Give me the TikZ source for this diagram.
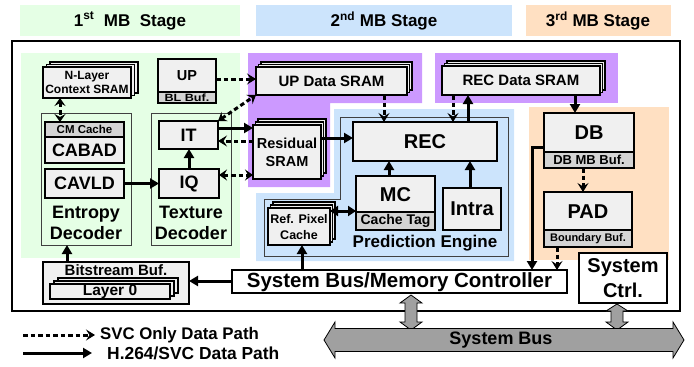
\documentclass[tikz,border=0pt]{standalone}
\usepackage{fontspec}
\setmainfont{Liberation Sans}
\usetikzlibrary{arrows.meta}

\definecolor{stageGreen}{RGB}{229,255,229}
\definecolor{stageBlue}{RGB}{204,228,252}
\definecolor{stageOrange}{RGB}{255,224,194}
\definecolor{sramPurple}{RGB}{204,153,255}
\definecolor{boxFill}{RGB}{240,240,240}
\definecolor{stripFill}{RGB}{212,212,212}
\definecolor{grpLine}{RGB}{64,64,64}
\definecolor{busFill}{RGB}{160,160,160}

\newcommand\bsz[2]{\fontsize{#1}{#2}\selectfont\bfseries}

\begin{document}
\begin{tikzpicture}[x=1pt,y=-1pt,
  rect/.style 2 args={minimum width=#1, minimum height=#2, anchor=north west,
    inner sep=0pt, outer sep=0pt},
  blk/.style={draw=black, line width=1.6pt, fill=boxFill},
  strip/.style={draw=black, line width=1.6pt, fill=stripFill},
  grp/.style={draw=grpLine, line width=1pt},
  txt/.style={inner sep=0pt, align=center},
  sarr/.style={line width=3pt, -{Triangle[length=9pt,width=10pt]}},
  sdarr/.style={line width=3pt, {Triangle[length=8pt,width=10pt]}-{Triangle[length=8pt,width=10pt]}},
  darr/.style={line width=3pt, dash pattern=on 4.5pt off 3pt,
    -{Stealth[length=9pt,width=11pt,inset=3.5pt]}},
  ddarr/.style={line width=3pt, dash pattern=on 4.5pt off 3pt,
    {Stealth[length=8pt,width=11pt,inset=3pt]}-{Stealth[length=8pt,width=11pt,inset=3pt]}},
  bus/.style={draw=black, line width=0.8pt, fill=busFill}
]
\useasboundingbox (0,0) rectangle (694,367);

% ---- stage headers ----
\fill[stageGreen]  (20,5)  rectangle (240,36);
\fill[stageBlue]   (256,5) rectangle (512,36);
\fill[stageOrange] (526,5) rectangle (671,36);
\node[txt, font=\bsz{17}{20}] (hdrA) at (130,21) {1\textsuperscript{st}\ \ MB\ \ Stage};
\node[txt, font=\bsz{17}{20}] (hdrB) at (384,21) {2\textsuperscript{nd} MB Stage};
\node[txt, font=\bsz{17}{20}] (hdrC) at (598,21) {3\textsuperscript{rd} MB Stage};

% ---- stage areas inside the chip ----
\fill[stageGreen] (21,53) rectangle (240,258);
\fill[sramPurple] (248,53) -- (422,53) -- (422,103) -- (330,103) -- (330,187) -- (248,187) -- cycle;
\fill[sramPurple] (435,53) rectangle (618,103);
\fill[stageBlue] (334,109) -- (514,109) -- (514,261) -- (256,261) -- (256,193) -- (334,193) -- cycle;
\fill[stageOrange] (529,107) rectangle (669,260);

% chip outline
\node[draw, line width=1.5pt, rect={668pt}{270pt}] (chip) at (12,41) {};

% group outlines
\node[grp, rect={90pt}{132pt}] (entropy) at (41,113) {};
\node[grp, rect={80pt}{132pt}] (texture) at (151,113) {};
\draw[grp] (340,117) -- (508,117) -- (508,256) -- (264,256) -- (264,199) -- (340,199) -- cycle;
\coordinate (predeng) at (425,243);

% ---- 1st stage blocks ----
\draw[blk] (50,62) rectangle (138,93);
\draw[blk] (46.5,64.5) rectangle (134.5,95.5);
\node[blk, rect={88pt}{31pt}] (nlsram) at (43,67) {};
\node[txt, font=\bsz{12}{14}] (nlsramT) at (87,82.5) {N-Layer\\Context SRAM};

\node[blk, rect={58pt}{44pt}] (up) at (158,59) {};
\node[strip, rect={58pt}{11pt}] (upS) at (158,92) {};
\node[txt, font=\bsz{14.5}{16}] (upT) at (187,75.5) {UP};
\node[txt, font=\bsz{10.5}{12}] (upST) at (187,97.8) {\scalebox{1.2}[1]{BL Buf.}};

\node[blk, rect={79pt}{41pt}] (cabad) at (45,122) {};
\node[strip, rect={79pt}{15pt}] (cmc) at (45,122) {};
\node[txt, font=\bsz{11.5}{13}] (cmcT) at (84.5,129.7) {CM Cache};
\node[txt, font=\bsz{18}{20}] (cabadT) at (84.5,150.5) {CABAD};

\node[blk, rect={79pt}{29pt}] (cavld) at (45,169) {};
\node[txt, font=\bsz{18}{20}] (cavldT) at (84.5,183.7) {CAVLD};
\node[txt, font=\bsz{18}{21}] (entropyT) at (86,223) {Entropy\\Decoder};

\node[blk, rect={59pt}{28pt}] (it) at (159,121) {};
\node[txt, font=\bsz{18}{20}] (itT) at (188.5,135.2) {IT};
\node[blk, rect={60pt}{29pt}] (iq) at (159,169) {};
\node[txt, font=\bsz{18}{20}] (iqT) at (189,183.7) {IQ};
\node[txt, font=\bsz{18}{21}] (textureT) at (191,223) {Texture\\Decoder};

% bitstream buffer
\node[blk, rect={146pt}{42pt}] (bitbuf) at (43,262) {};
\node[txt, font=\bsz{15}{17}] (bitbufT) at (116,270.5) {Bitstream Buf.};
\draw[blk] (58,278) rectangle (178,293);
\draw[blk] (54,281) rectangle (174,296);
\node[blk, rect={120pt}{15pt}] (layer) at (50,284) {};
\node[txt, font=\bsz{15.5}{17}] (layerT) at (110,291.8) {Layer 0};

% ---- 2nd stage blocks ----
\draw[blk] (261,62) rectangle (412,90);
\draw[blk] (258.5,64.5) rectangle (409.5,92.5);
\node[blk, rect={151pt}{28pt}] (updsram) at (256,67) {};
\node[txt, font=\bsz{15}{17}] (updsramT) at (331.5,81.2) {UP Data SRAM};

\draw[blk] (258,119) rectangle (326,173);
\draw[blk] (255.5,122) rectangle (323.5,176);
\node[blk, rect={68pt}{54pt}] (ressram) at (253,125) {};
\node[txt, font=\bsz{14.5}{18}] (ressramT) at (287,152) {Residual\\SRAM};

\draw[blk] (447,61) rectangle (605,90);
\draw[blk] (444.5,63.5) rectangle (602.5,92.5);
\node[blk, rect={158pt}{29pt}] (recsram) at (442,66) {};
\node[txt, font=\bsz{15}{17}] (recsramT) at (521,80.7) {REC Data SRAM};

\node[blk, rect={144pt}{39pt}] (rec) at (353,122) {};
\node[txt, font=\bsz{20}{22}] (recT) at (425,141.7) {REC};

\node[blk, rect={79pt}{54pt}] (mc) at (356,176) {};
\node[strip, rect={79pt}{18pt}] (mcS) at (356,212) {};
\node[txt, font=\bsz{20}{22}] (mcT) at (395.5,194.2) {MC};
\node[txt, font=\bsz{14}{16}] (mcST) at (395.5,221.3) {Cache Tag};

\node[blk, rect={58pt}{42pt}] (intra) at (443,188) {};
\node[txt, font=\bsz{20}{22}] (intraT) at (472,209.2) {Intra};

\draw[blk] (273,202) rectangle (335,239);
\draw[blk] (270.5,205) rectangle (332.5,242);
\node[blk, rect={62pt}{37pt}] (refpix) at (268,208) {};
\node[txt, font=\bsz{12.5}{16}] (refpixT) at (299,227) {Ref. Pixel\\Cache};

\node[txt, font=\bsz{17}{20}] (predengT) at (predeng) {Prediction Engine};

% ---- 3rd stage blocks ----
\node[blk, rect={90pt}{55pt}] (db) at (544,113) {};
\node[strip, rect={90pt}{16pt}] (dbS) at (544,152) {};
\node[txt, font=\bsz{20}{22}] (dbT) at (589,132.7) {DB};
\node[txt, font=\bsz{13}{15}] (dbST) at (589,160.3) {DB MB Buf.};

\node[blk, rect={88pt}{55pt}] (pad) at (544,192) {};
\node[strip, rect={88pt}{17pt}] (padS) at (544,230) {};
\node[txt, font=\bsz{20}{22}] (padT) at (588,211.2) {PAD};
\node[txt, font=\bsz{11}{13}] (padST) at (588,238.8) {Boundary Buf.};

% ---- system blocks ----
\node[draw, line width=1.6pt, fill=white, rect={335pt}{23pt}] (busctrl) at (232,270) {};
\node[txt, font=\bsz{20.5}{22}] (busctrlT) at (399.5,282) {System Bus/Memory Controller};
\node[draw, line width=1.6pt, fill=white, rect={88pt}{50pt}] (sysctrl) at (579,253) {};
\node[txt, font=\bsz{20}{25}] (sysctrlT) at (623,278.5) {System\\Ctrl.};

% ---- data paths ----
\draw[ddarr] (nlsram.south -| 60,0) -- (cmc.north -| 60,0);
\draw[darr]  (up.east |- 0,79) -- (updsram.west |- 0,79);
\draw[ddarr] (it.north east) -- (updsram.south west);
\draw[sarr]  (it.east |- 0,128) -- (ressram.west |- 0,128);
\draw[darr]  (ressram.west |- 0,141) -- (it.east |- 0,141);
\draw[ddarr] (iq.east |- 0,175) -- (ressram.west |- 0,175);
\draw[sarr]  (cavld.east) -- (iq.west |- cavld.east);
\draw[sarr]  (iq.north -| 189,0) -- (it.south -| 189,0);
\draw[sarr]  (bitbuf.north -| 67,0) -- (entropy.south -| 67,0);
\draw[sarr]  (busctrl.west |- 0,281) -- (bitbuf.east |- 0,281);
\draw[sarr]  (busctrl.north -| 302,0) -- (refpix.south -| 302,0);
\draw[sdarr] (refpix.east |- 0,211) -- (mc.west |- 0,211);
\draw[sarr]  (mc.north -| 389,0) -- (rec.south -| 389,0);
\draw[sarr]  (intra.north -| 470,0) -- (rec.south -| 470,0);
\draw[sarr]  (ressram.east |- 0,138) -- (rec.west |- 0,138);
\draw[darr]  (updsram.south -| 384,0) -- (rec.north -| 384,0);
\draw[darr]  (recsram.south -| 453,0) -- (rec.north -| 453,0);
\draw[sarr]  (rec.north -| 468,0) -- (recsram.south -| 468,0);
\draw[sarr]  (recsram.south -| 575,0) -- (db.north -| 575,0);
\draw[darr]  (dbS.south -| 583,0) -- (pad.north -| 583,0);
\draw[darr]  (padS.south -| 557,0) -- (busctrl.north -| 557,0);
\draw[sarr]  (db.west |- 0,147) -| (busctrl.north -| 532,0);

% ---- system bus ----
\draw[bus] (411,295) -- (422,303) -- (417,303) -- (417,322) -- (422,322) -- (411,330)
  -- (400,322) -- (405,322) -- (405,303) -- (400,303) -- cycle;
\draw[bus] (617,304) -- (628,311) -- (623,311) -- (623,322) -- (628,322) -- (617,330)
  -- (606,322) -- (611,322) -- (611,311) -- (606,311) -- cycle;
\draw[bus] (324,340) -- (335,322) -- (335,328.5) -- (673,328.5) -- (673,322) -- (684,340)
  -- (673,358) -- (673,351.5) -- (335,351.5) -- (335,358) -- cycle;
\node[txt, font=\bsz{18}{20}] (busT) at (501,340.5) {System Bus};

% ---- legend ----
\coordinate (lgA0) at (23,335);
\coordinate (lgA1) at (95,335);
\coordinate (lgB0) at (23,353);
\coordinate (lgB1) at (92,353);
\draw[darr] (lgA0) -- (lgA1);
\draw[sarr] (lgB0) -- (lgB1);
\node[txt, font=\bsz{16.8}{18}, anchor=west] (lgAT) at (100,335) {SVC Only Data Path};
\node[txt, font=\bsz{17.4}{18}, anchor=west] (lgBT) at (107,353) {H.264/SVC Data Path};
\end{tikzpicture}
\end{document}
